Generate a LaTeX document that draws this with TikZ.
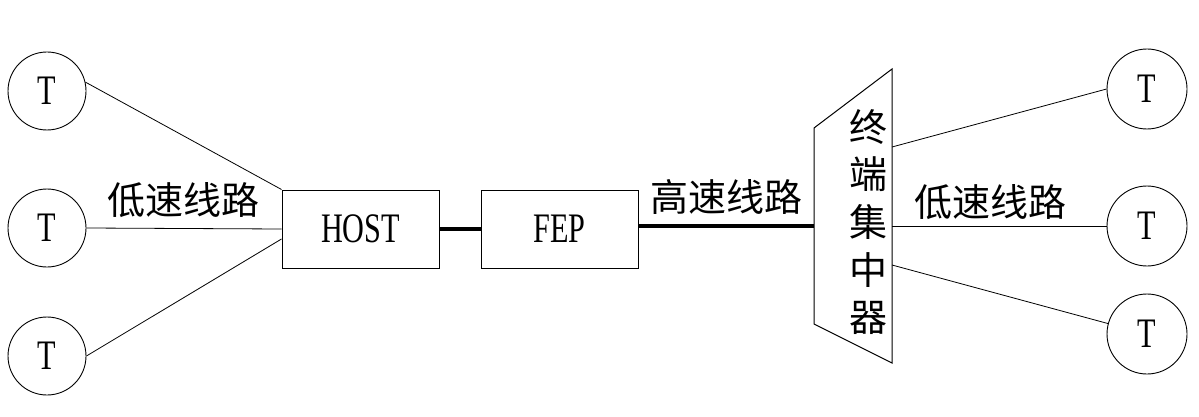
\documentclass[tikz,border=0pt]{standalone}
\usepackage{fontspec}
\setmainfont{Liberation Serif}[FakeStretch=0.72]
\newfontfamily\cjk{Noto Sans CJK SC}
\usepackage{tikz}
\usetikzlibrary{positioning}

\begin{document}
\begin{tikzpicture}[
    x=1pt, y=-1pt,
    term/.style={circle, draw, line width=0.9pt, minimum size=78pt, inner sep=0pt, font=\fontsize{42}{42}\selectfont},
    box/.style={rectangle, draw, line width=1pt, minimum width=157pt, minimum height=78pt, inner sep=0pt, font=\fontsize{42}{42}\selectfont},
    label/.style={inner sep=0pt, font=\cjk\fontsize{38}{38}\selectfont},
    slow/.style={line width=0.8pt},
    fast/.style={line width=3.2pt}
]
    \useasboundingbox (0,0) rectangle (1199,417);

    % Nodes
    \node[term] (lt) at (47,91) {T};
    \node[term] (lm) at (47,228) {T};
    \node[term] (lb) at (47,356) {T};
    \node[box] (host) at (360.5,229) {HOST};
    \node[box, right=41pt of host] (fep) {FEP};
    \node[term, minimum size=80pt] (rt) at (1147,89) {T};
    \node[term, minimum size=80pt] (rm) at (1147,226) {T};
    \node[term, minimum size=80pt] (rb) at (1147,334) {T};

    % concentrator
    \coordinate (ctl) at (814,128);
    \coordinate (ctr) at (892,69);
    \coordinate (cbr) at (892,363);
    \coordinate (cbl) at (814,324);
    \coordinate (cin) at (814,226);
    \coordinate (cout1) at (892,147);
    \coordinate (cout2) at (892,226);
    \coordinate (cout3) at (892,265);
    \draw[line width=1pt] (ctl) -- (ctr) -- (cbr) -- (cbl) -- cycle;
    \node[label, align=center, font=\cjk\fontsize{38}{47.7}\selectfont] (conc) at (868,222) {终\\端\\集\\中\\器};

    % Paths
    \draw[slow] (lt.13) -- (host.north west);
    \draw[slow] (lm.east) -- node[label, above=10pt]{低速线路} (host.west);
    \draw[slow] (lb.east) -- ([yshift=-10pt]host.west);
    \draw[fast] (host.east) -- (fep.west);
    \draw[fast] (fep.east |- cin) -- node[label, above=10pt]{高速线路} (cin);
    \draw[slow] (cout1) -- (rt.west);
    \draw[slow] (cout2) -- node[label, above=6pt, pos=0.46]{低速线路} (rm.west);
    \draw[slow] (cout3) -- (rb.165);
\end{tikzpicture}
\end{document}
